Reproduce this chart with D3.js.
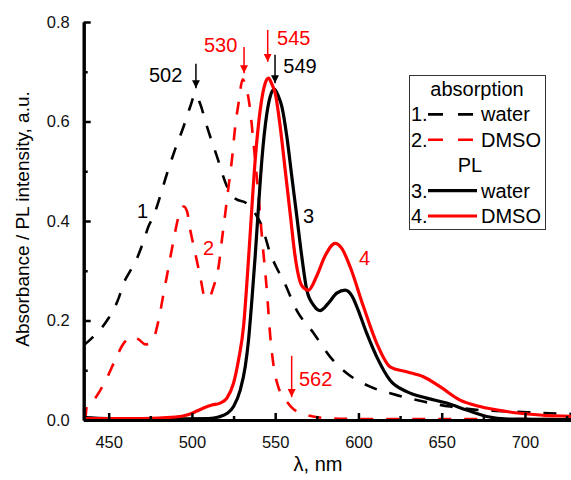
<!DOCTYPE html>
<html>
<head>
<meta charset="utf-8">
<style>
  body { margin: 0; background: #fff; }
  svg { font-family: "Liberation Sans", Arial, sans-serif; }
  .tick text { font-size: 16.5px; fill: #111; }
</style>
</head>
<body>
<svg width="571" height="480"></svg>
<script src="https://d3js.org/d3.v7.min.js"></script>
<script>

// [wavelength nm, value]
var absWater = [[435,0.15],[440,0.165],[445,0.182],[450,0.205],[453,0.222],[456,0.245],[459,0.275],[463,0.30],
  [467,0.325],[471,0.36],[474,0.39],[477,0.41],[480,0.44],[485,0.495],[490,0.545],[495,0.59],[499,0.63],
  [502,0.655],[505,0.635],[509,0.59],[515,0.53],[521,0.47],[526,0.445],[533,0.435],[538,0.415],[542,0.39],
  [547,0.335],[551,0.305],[555,0.28],[563,0.22],[573,0.175],[583,0.127],[593,0.094],[607,0.067],[623,0.05],
  [639,0.037],[655,0.027],[673,0.02],[693,0.017],[719,0.013],[730,0.012]];

var absDmso = [[436,0.0],[437,0.03],[441,0.04],[445,0.06],[449,0.085],[453,0.114],[459,0.154],[464,0.167],
  [468,0.162],[472,0.152],[476,0.157],[480,0.201],[483,0.255],[486,0.308],[489,0.362],[492,0.409],[495,0.429],
  [497,0.42],[499,0.382],[502,0.335],[505,0.288],[508,0.245],[510,0.245],[513,0.268],[516,0.308],[518,0.362],
  [520,0.415],[521.5,0.456],[524,0.523],[526,0.59],[528,0.637],[530.5,0.685],[532,0.675],[535,0.623],[537,0.556],
  [540,0.45],[542,0.37],[545,0.26],[547,0.17],[549,0.11],[552,0.065],[555,0.047],[560,0.025],[569,0.01],
  [580,0.004],[600,0.002],[650,0.002],[730,0.002]];

var plWater = [[435,0.005],[450,0.003],[480,0.002],[510,0.003],[516,0.006],[521,0.013],[525,0.027],[529,0.06],
  [532,0.107],[534,0.161],[536,0.241],[538,0.33],[540,0.43],[542,0.523],[545,0.616],[547,0.65],[549.5,0.665],
  [552,0.65],[554,0.63],[557,0.57],[560,0.489],[563,0.409],[566,0.328],[569,0.261],[573,0.231],[577,0.22],
  [582,0.235],[587,0.255],[592,0.261],[596,0.25],[599,0.228],[605,0.174],[611,0.127],[619,0.08],[629,0.057],
  [641,0.044],[653,0.034],[665,0.02],[677,0.007],[690,0.002],[730,0.001]];

var plDmso = [[435,0.003],[470,0.003],[490,0.006],[497,0.01],[503,0.018],[507,0.024],[512,0.03],[517,0.034],
  [521,0.044],[525,0.074],[528,0.121],[531,0.188],[533,0.275],[535,0.375],[538,0.523],[541,0.623],[544,0.677],
  [546,0.687],[548,0.675],[550,0.657],[553,0.59],[556,0.503],[559,0.415],[562,0.328],[566,0.27],[570,0.261],
  [575,0.29],[580,0.33],[586,0.355],[590,0.345],[595,0.308],[603,0.228],[611,0.154],[619,0.107],[629,0.097],
  [639,0.087],[649,0.067],[661,0.04],[673,0.027],[689,0.017],[709,0.01],[730,0.007]];

var xTicks = [450, 500, 550, 600, 650, 700];
var xMinor = [475, 525, 575, 625, 675, 725];
var yTicks = [0, 0.2, 0.4, 0.6, 0.8];
var yMinor = [0.1, 0.3, 0.5, 0.7];

// peak markers: label, arrow wavelength, arrow top/bottom, label position
var peaks = [
  {t:"502", c:"#000", ax:502.4, a0:0.716, a1:0.667, lx:474.2, ly:0.679},
  {t:"530", c:"#f00", ax:531.3, a0:0.75,  a1:0.697, lx:507.2, ly:0.74},
  {t:"545", c:"#f00", ax:545.5, a0:0.784, a1:0.72,  lx:551.1, ly:0.754},
  {t:"549", c:"#000", ax:549.9, a0:0.734, a1:0.677, lx:554.9, ly:0.698},
  {t:"562", c:"#f00", ax:559.9, a0:0.129, a1:0.046, lx:564.3, ly:0.068}
];
var curveLabels = [
  {t:"1", c:"#000", lx:467, ly:0.406},
  {t:"2", c:"#f00", lx:506.6, ly:0.332},
  {t:"3", c:"#000", lx:566.7, ly:0.396},
  {t:"4", c:"#f00", lx:600.3, ly:0.312}
];

var series = [
  {d:absWater, c:"#000", dash:"13,13", w:2.6},
  {d:absDmso,  c:"#f00", dash:"13,13", w:2.6},
  {d:plWater,  c:"#000", dash:null,    w:3.2},
  {d:plDmso,   c:"#f00", dash:null,    w:3.2}
];

var svg = d3.select("svg");
var x = d3.scaleLinear().domain([435, 730]).range([83.7, 574.9]);
var y = d3.scaleLinear().domain([0, 0.8]).range([420, 22]);

var line = d3.line()
    .x(function(d) { return x(d[0]); })
    .y(function(d) { return y(d[1]); })
    .curve(d3.curveMonotoneX);

svg.selectAll("path.curve")
  .data(series)
  .enter().append("path")
    .attr("class", "curve")
    .attr("d", function(s) { return line(s.d); })
    .attr("fill", "none")
    .attr("stroke", function(s) { return s.c; })
    .attr("stroke-width", function(s) { return s.w; })
    .attr("stroke-dasharray", function(s) { return s.dash; });

// axes, ticks pointing inward
function styleAxis(g) {
  g.select(".domain").attr("stroke", "#000").attr("stroke-width", 3);
  g.selectAll(".tick line").attr("stroke", "#000").attr("stroke-width", 2.5);
}

var gx = svg.append("g").attr("transform", "translate(0,420)")
  .call(d3.axisBottom(x).tickValues(xTicks).tickSizeInner(-7).tickSizeOuter(0).tickPadding(16))
  .call(styleAxis);
gx.selectAll(".tick text").attr("dy", "0.71em");
svg.append("g").attr("transform", "translate(0,420)")
  .call(d3.axisBottom(x).tickValues(xMinor).tickSizeInner(-4).tickSizeOuter(0).tickFormat(""))
  .call(styleAxis);

svg.append("g").attr("transform", "translate(83.7,0)")
  .call(d3.axisLeft(y).tickValues(yTicks).tickSizeInner(-7).tickSizeOuter(0).tickPadding(14).tickFormat(d3.format(".1f")))
  .call(styleAxis);
svg.append("g").attr("transform", "translate(83.7,0)")
  .call(d3.axisLeft(y).tickValues(yMinor).tickSizeInner(-4).tickSizeOuter(0).tickFormat(""))
  .call(styleAxis);

// axis titles
svg.append("text")
  .attr("x", 318).attr("y", 471)
  .attr("text-anchor", "middle")
  .attr("font-size", 20)
  .text("λ, nm");

svg.append("text")
  .attr("transform", "translate(29,219) rotate(-90)")
  .attr("text-anchor", "middle")
  .attr("font-size", 19)
  .text("Absorbance / PL intensity, a.u.");

// peak arrows and labels
var defs = svg.append("defs");
["#000", "#f00"].forEach(function(c, i) {
  defs.append("marker")
      .attr("id", "head" + i)
      .attr("viewBox", "0 0 10 10")
      .attr("refX", 10).attr("refY", 5)
      .attr("markerWidth", 8).attr("markerHeight", 8)
      .attr("markerUnits", "userSpaceOnUse")
      .attr("orient", "auto")
    .append("path")
      .attr("d", "M0,0L10,5L0,10Z")
      .attr("fill", c);
});

svg.selectAll("line.arrow")
  .data(peaks)
  .enter().append("line")
    .attr("class", "arrow")
    .attr("x1", function(d) { return x(d.ax); })
    .attr("x2", function(d) { return x(d.ax); })
    .attr("y1", function(d) { return y(d.a0); })
    .attr("y2", function(d) { return y(d.a1); })
    .attr("stroke", function(d) { return d.c; })
    .attr("stroke-width", 1.5)
    .attr("marker-end", function(d) { return d.c === "#000" ? "url(#head0)" : "url(#head1)"; });

svg.selectAll("text.lab")
  .data(peaks.concat(curveLabels))
  .enter().append("text")
    .attr("class", "lab")
    .attr("x", function(d) { return x(d.lx); })
    .attr("y", function(d) { return y(d.ly); })
    .attr("fill", function(d) { return d.c; })
    .attr("font-size", 20)
    .text(function(d) { return d.t; });

// legend
var legend = svg.append("g");
legend.append("rect")
  .attr("x", 409.5).attr("y", 75.5)
  .attr("width", 136).attr("height", 154)
  .attr("fill", "#fff")
  .attr("stroke", "#333").attr("stroke-width", 1);

var legendRows = [
  {head:"absorption"},
  {n:"1.", t:"water", c:"#000", dash:"15,15", w:2.6},
  {n:"2.", t:"DMSO",  c:"#f00", dash:"15,15", w:2.6},
  {head:"PL"},
  {n:"3.", t:"water", c:"#000", dash:null, w:3.2},
  {n:"4.", t:"DMSO",  c:"#f00", dash:null, w:3.2}
];

legendRows.forEach(function(r, i) {
  var by = 96 + i * 25.4;
  if (r.head) {
    legend.append("text")
      .attr("x", r.head === "PL" ? 470 : 477).attr("y", by)
      .attr("text-anchor", "middle")
      .attr("font-size", 20)
      .text(r.head);
    return;
  }
  legend.append("text").attr("x", 411).attr("y", by).attr("font-size", 20).text(r.n);
  legend.append("line")
    .attr("x1", 428).attr("x2", r.dash ? 473 : 477)
    .attr("y1", by - 7).attr("y2", by - 7)
    .attr("stroke", r.c).attr("stroke-width", r.w)
    .attr("stroke-dasharray", r.dash);
  legend.append("text").attr("x", 481).attr("y", by).attr("font-size", 20).text(r.t);
});

</script>
</body>
</html>
